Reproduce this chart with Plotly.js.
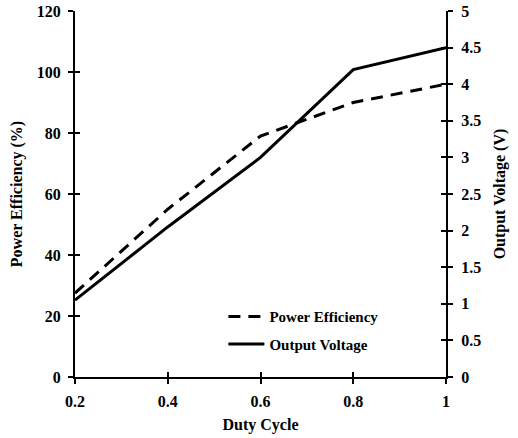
<!DOCTYPE html>
<html>
<head>
<meta charset="utf-8">
<script src="https://cdn.plot.ly/plotly-3.0.1.min.js"></script>
<style>html,body{margin:0;padding:0;background:#fff;}#chart{width:518px;height:438px;}</style>
</head>
<body>
<div id="chart"></div>
<script>
const dutyCycle = [0.2, 0.4, 0.6, 0.8, 1.0];
const powerEfficiency = [27.5, 55, 79, 90, 96];
const outputVoltage = [1.05, 2.05, 3.0, 4.2, 4.5];
const leftTicks = [0, 20, 40, 60, 80, 100, 120];
const rightTicks = [0, 0.5, 1, 1.5, 2, 2.5, 3, 3.5, 4, 4.5, 5];
const xTicks = [0.2, 0.4, 0.6, 0.8, 1];

const fontFam = '"Liberation Serif", "Times New Roman", serif';
const tickFont = {family: fontFam, size: 16, color: '#000', weight: 'bold'};
const titleFont = {family: fontFam, size: 16, color: '#000', weight: 'bold'};

const traces = [
  {x: dutyCycle, y: powerEfficiency, type: 'scatter', mode: 'lines', name: 'Power Efficiency', legendgroup: 'a',
   line: {color: '#000', width: 3, dash: '12px,8px'}, xaxis: 'x', yaxis: 'y'},
  {x: dutyCycle, y: outputVoltage, type: 'scatter', mode: 'lines', name: 'Output Voltage', legendgroup: 'b',
   line: {color: '#000', width: 3}, xaxis: 'x', yaxis: 'y2'},
  // invisible helpers for inner tick halves
  {x: dutyCycle, y: powerEfficiency, type: 'scatter', mode: 'none', showlegend: false, hoverinfo: 'skip', xaxis: 'x2', yaxis: 'y3'},
  {x: dutyCycle, y: outputVoltage, type: 'scatter', mode: 'none', showlegend: false, hoverinfo: 'skip', xaxis: 'x2', yaxis: 'y4'}
];

const layout = {
  width: 518, height: 438,
  margin: {l: 75, r: 72, t: 11, b: 61},
  paper_bgcolor: '#fff', plot_bgcolor: '#fff',
  showlegend: true,
  legend: {x: 0.40, y: 0.21, xanchor: 'left', yanchor: 'top', bgcolor: 'rgba(0,0,0,0)',
           font: {family: fontFam, size: 15, color: '#000', weight: 'bold'}, traceorder: 'grouped', tracegroupgap: 5, itemwidth: 36},
  xaxis: {range: [0.2, 1], tickvals: xTicks, ticktext: xTicks.map(String), ticks: 'outside', ticklen: 5, tickwidth: 2,
          tickcolor: '#000', showline: true, linecolor: '#000', linewidth: 2, showgrid: false, zeroline: false,
          tickfont: tickFont, ticklabelstandoff: 4,
          title: {text: 'Duty Cycle', font: titleFont, standoff: 10}},
  yaxis: {range: [0, 120], tickvals: leftTicks, ticks: 'outside', ticklen: 5, tickwidth: 2, tickcolor: '#000',
          showline: true, linecolor: '#000', linewidth: 2, showgrid: false, zeroline: false, tickfont: tickFont,
          ticklabelstandoff: 4,
          title: {text: 'Power Efficiency (%)', font: titleFont, standoff: 10}},
  yaxis2: {range: [0, 5], tickvals: rightTicks, overlaying: 'y', side: 'right', ticks: 'outside', ticklen: 5, tickwidth: 2,
           tickcolor: '#000', showline: true, linecolor: '#000', linewidth: 2, showgrid: false, zeroline: false,
           tickfont: tickFont, ticklabelstandoff: 5,
           title: {text: 'Output Voltage (V)', font: titleFont, standoff: 14}},
  xaxis2: {range: [0.2, 1], tickvals: xTicks, overlaying: 'x', ticks: 'inside', ticklen: 5, tickwidth: 2, tickcolor: '#000',
           showticklabels: false, showline: false, showgrid: false, zeroline: false},
  yaxis3: {range: [0, 120], tickvals: leftTicks, overlaying: 'y', ticks: 'inside', ticklen: 5, tickwidth: 2, tickcolor: '#000',
           showticklabels: false, showline: false, showgrid: false, zeroline: false},
  yaxis4: {range: [0, 5], tickvals: rightTicks, overlaying: 'y', side: 'right', ticks: 'inside', ticklen: 5, tickwidth: 2,
           tickcolor: '#000', showticklabels: false, showline: false, showgrid: false, zeroline: false}
};

Plotly.newPlot('chart', traces, layout, {displayModeBar: false, staticPlot: true});
</script>
</body>
</html>
